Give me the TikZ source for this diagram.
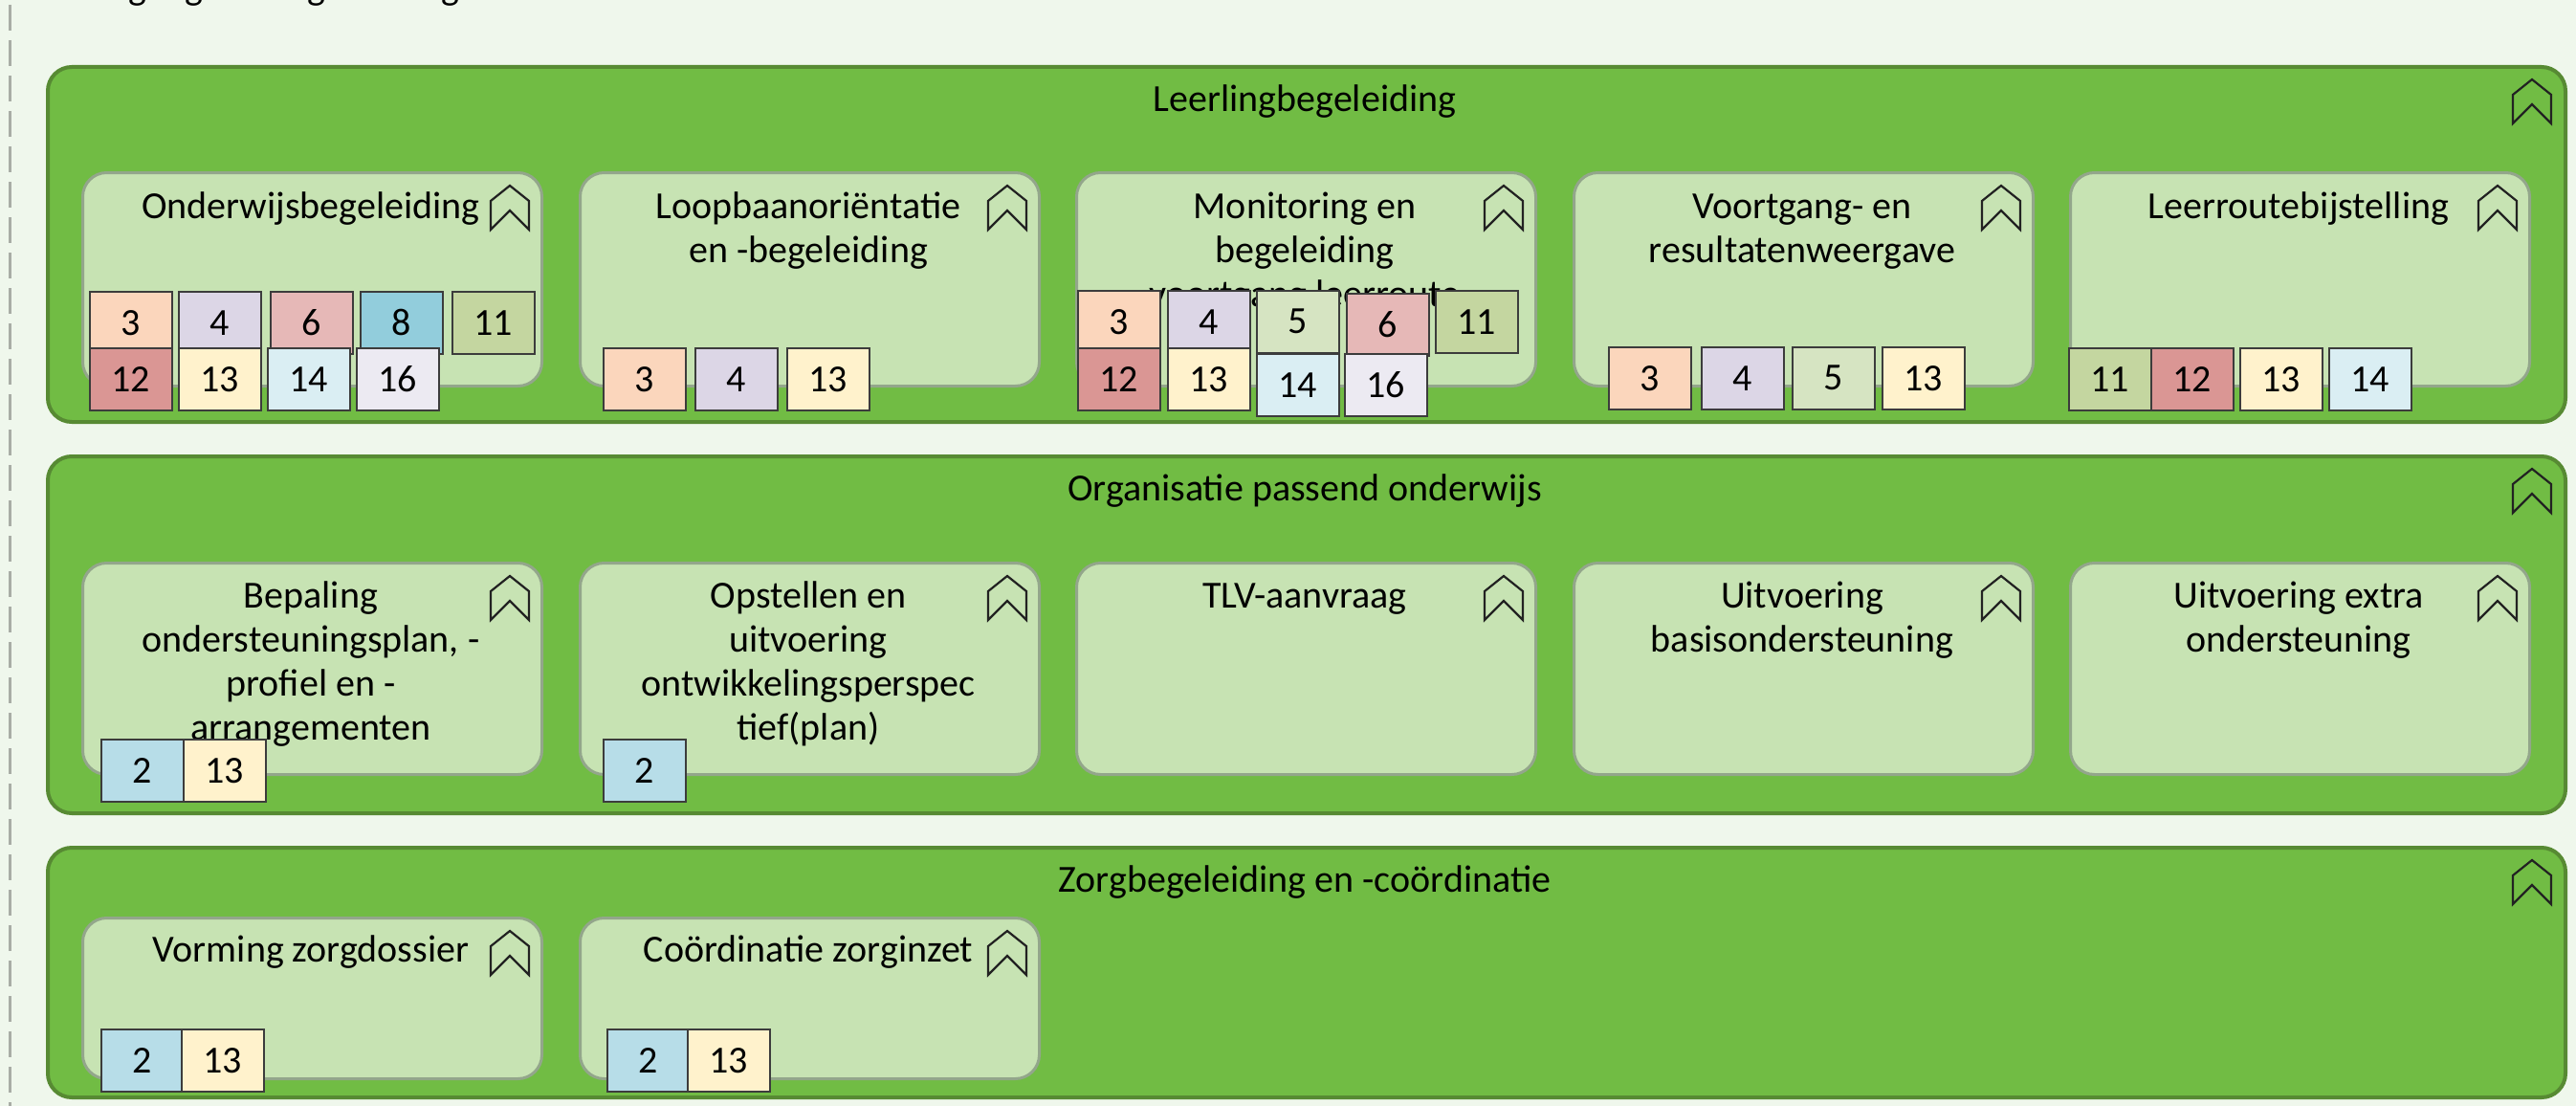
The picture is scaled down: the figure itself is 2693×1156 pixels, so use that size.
\documentclass[tikz,border=0pt]{standalone}
\usepackage{fontspec}
\setmainfont{Carlito}
\definecolor{bgc}{HTML}{EFF7EC}
\definecolor{grpfill}{HTML}{71BC44}
\definecolor{grpline}{HTML}{578A33}
\definecolor{infill}{HTML}{C7E3B3}
\definecolor{inline}{HTML}{93A68B}
\definecolor{icline}{HTML}{222222}
\definecolor{bdline}{HTML}{3C3C3C}
\definecolor{dashc}{HTML}{A9ADA6}
\definecolor{cB}{HTML}{B7DDE8}
\definecolor{cC}{HTML}{FBD6BC}
\definecolor{cD}{HTML}{DCD6E6}
\definecolor{cE}{HTML}{D6E4C2}
\definecolor{cF}{HTML}{E6B8B7}
\definecolor{cH}{HTML}{92CDDC}
\definecolor{cK}{HTML}{C4D6A0}
\definecolor{cL}{HTML}{DA9694}
\definecolor{cM}{HTML}{FFF2CC}
\definecolor{cN}{HTML}{DAEEF3}
\definecolor{cP}{HTML}{ECEAF2}
\newcommand{\tst}{\rule{0pt}{34pt}}
\begin{document}
\begin{tikzpicture}[x=1pt,y=-1pt,
  grp/.style={draw=grpline, fill=grpfill, line width=4pt, rounded corners=25pt, anchor=north west, minimum width=2632pt, inner sep=0pt},
  inbox/.style={draw=inline, fill=infill, line width=3pt, rounded corners=25pt, anchor=north west, minimum width=480pt, inner sep=0pt},
  lbl/.style={anchor=north, align=center, inner sep=0pt, font=\fontsize{40}{46}\selectfont},
  badge/.style={draw=bdline, line width=1.5pt, anchor=north west, minimum width=86pt, minimum height=65pt, inner sep=0pt, font=\fontsize{40}{46}\selectfont},
  bfic/.pic={\draw[line width=2.2pt, draw=icline, line join=miter] (20,0) -- (40,16) -- (40,46) -- (20,26) -- (0,46) -- (0,16) -- cycle;},
  grpedge/.style={draw=dashc, line width=3pt, dash pattern=on 27pt off 10pt}
]
\useasboundingbox (0,0) rectangle (2693,1156);
\clip (0,0) rectangle (2693,1156);
\fill[bgc] (0,0) rectangle (2693,1156);
% enclosing group (only its left dashed edge and label descenders are visible)
\coordinate (ge1) at (10,-106);
\coordinate (ge2) at (10,1260);
\draw[grpedge] (ge1) -- (ge2);
\node[anchor=base west, inner sep=0pt, font=\fontsize{40}{46}\selectfont] (toplbl) at (24,0) {Leerlingbegeleiding en -zorg};

% ---------- groups ----------
\node[grp, minimum height=371pt] (g1) at (48,68) {};
\node[grp, minimum height=373pt] (g2) at (48,475) {};
\node[grp, minimum height=261pt] (g3) at (48,884) {};
\node[lbl] (g1t) at (1364,82) {\tst Leerlingbegeleiding};
\node[lbl] (g2t) at (1364,489) {\tst Organisatie passend onderwijs};
\node[lbl] (g3t) at (1364,898) {\tst Zorgbegeleiding en -coördinatie};
\pic at (2627,83) {bfic};
\pic at (2627,490) {bfic};
\pic at (2627,899) {bfic};

% ---------- row 1 ----------
\node[inbox, minimum height=223pt] (a1) at (85,179) {};
\node[inbox, minimum height=223pt] (a2) at (605,179) {};
\node[inbox, minimum height=223pt] (a3) at (1124,179) {};
\node[inbox, minimum height=223pt] (a4) at (1644,179) {};
\node[inbox, minimum height=223pt] (a5) at (2163,179) {};
\node[lbl] (a1t) at (325,194) {\tst Onderwijsbegeleiding};
\node[lbl] (a2t) at (845,194) {\tst Loopbaanoriëntatie\\en -begeleiding};
\node[lbl] (a3t) at (1364,194) {\tst Monitoring en\\begeleiding\\voortgang leerroute};
\node[lbl] (a4t) at (1884,194) {\tst Voortgang- en\\resultatenweergave};
\node[lbl] (a5t) at (2403,194) {\tst Leerroutebijstelling};
\foreach \l in {85,605,1124,1644,2163} \pic at (\l+428,194) {bfic};

% ---------- row 2 ----------
\node[inbox, minimum height=221pt] (b1) at (85,587) {};
\node[inbox, minimum height=221pt] (b2) at (605,587) {};
\node[inbox, minimum height=221pt] (b3) at (1124,587) {};
\node[inbox, minimum height=221pt] (b4) at (1644,587) {};
\node[inbox, minimum height=221pt] (b5) at (2163,587) {};
\node[lbl] (b1t) at (325,601) {\tst Bepaling\\ondersteuningsplan, -\\profiel en -\\arrangementen};
\node[lbl] (b2t) at (845,601) {\tst Opstellen en\\uitvoering\\ontwikkelingsperspec\\tief(plan)};
\node[lbl] (b3t) at (1364,601) {\tst TLV-aanvraag};
\node[lbl] (b4t) at (1884,601) {\tst Uitvoering\\basisondersteuning};
\node[lbl] (b5t) at (2403,601) {\tst Uitvoering extra\\ondersteuning};
\foreach \l in {85,605,1124,1644,2163} \pic at (\l+428,602) {bfic};

% ---------- row 3 ----------
\node[inbox, minimum height=168pt] (c1) at (85,958) {};
\node[inbox, minimum height=168pt] (c2) at (605,958) {};
\node[lbl] (c1t) at (325,971) {\tst Vorming zorgdossier};
\node[lbl] (c2t) at (845,971) {\tst Coördinatie zorginzet};
\foreach \l in {85,605} \pic at (\l+428,973) {bfic};

% ---------- badges ----------
% Onderwijsbegeleiding
\node[badge, fill=cC] (a1b3) at (93,304) {3};
\node[badge, fill=cD] (a1b4) at (186,304) {4};
\node[badge, fill=cF] (a1b6) at (282,304) {6};
\node[badge, fill=cH] (a1b8) at (376,304) {8};
\node[badge, fill=cK] (a1b11) at (472,304) {11};
\node[badge, fill=cL] (a1b12) at (93,363) {12};
\node[badge, fill=cM] (a1b13) at (186,363) {13};
\node[badge, fill=cN] (a1b14) at (279,363) {14};
\node[badge, fill=cP] (a1b16) at (372,363) {16};
% Loopbaanorientatie
\node[badge, fill=cC] (a2b3) at (630,363) {3};
\node[badge, fill=cD] (a2b4) at (726,363) {4};
\node[badge, fill=cM] (a2b13) at (822,363) {13};
% Monitoring
\node[badge, fill=cC] (a3b3) at (1126,303) {3};
\node[badge, fill=cD] (a3b4) at (1220,303) {4};
\node[badge, fill=cE] (a3b5) at (1313,303) {5};
\node[badge, fill=cF] (a3b6) at (1407,306) {6};
\node[badge, fill=cK] (a3b11) at (1500,303) {11};
\node[badge, fill=cL] (a3b12) at (1126,363) {12};
\node[badge, fill=cM] (a3b13) at (1220,363) {13};
\node[badge, fill=cN] (a3b14) at (1313,369) {14};
\node[badge, fill=cP] (a3b16) at (1405,369) {16};
% Voortgang
\node[badge, fill=cC] (a4b3) at (1681,362) {3};
\node[badge, fill=cD] (a4b4) at (1778,362) {4};
\node[badge, fill=cE] (a4b5) at (1873,362) {5};
\node[badge, fill=cM] (a4b13) at (1967,362) {13};
% Leerroutebijstelling
\node[badge, fill=cK] (a5b11) at (2162,363) {11};
\node[badge, fill=cL] (a5b12) at (2248,363) {12};
\node[badge, fill=cM] (a5b13) at (2341,363) {13};
\node[badge, fill=cN] (a5b14) at (2434,363) {14};
% Bepaling
\node[badge, fill=cB] (b1b2) at (105,772) {2};
\node[badge, fill=cM] (b1b13) at (191,772) {13};
% Opstellen
\node[badge, fill=cB] (b2b2) at (630,772) {2};
% Vorming
\node[badge, fill=cB] (c1b2) at (105,1075) {2};
\node[badge, fill=cM] (c1b13) at (189,1075) {13};
% Coordinatie
\node[badge, fill=cB] (c2b2) at (634,1075) {2};
\node[badge, fill=cM] (c2b13) at (718,1075) {13};
\end{tikzpicture}
\end{document}
